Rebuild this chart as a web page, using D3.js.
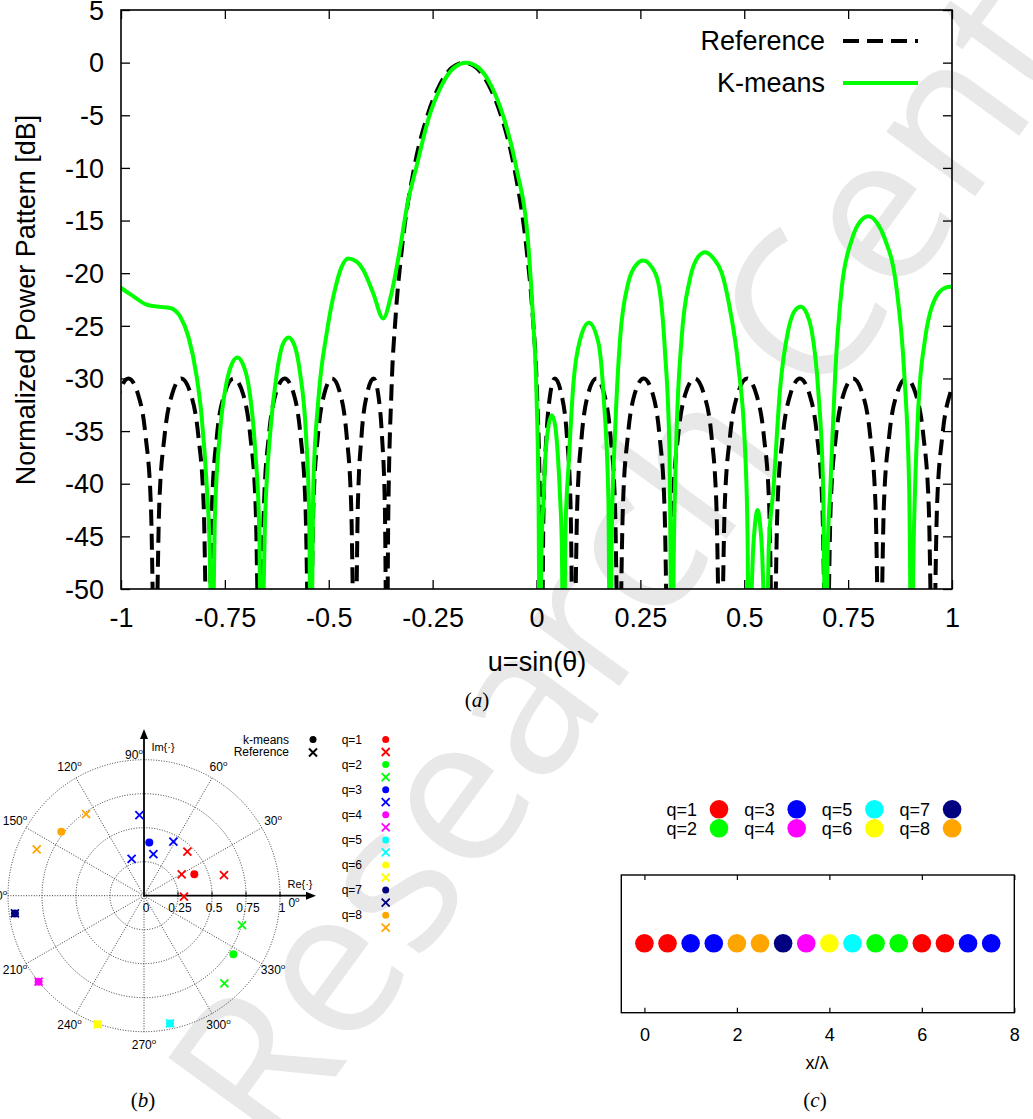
<!DOCTYPE html>
<html><head><meta charset="utf-8">
<script src="https://cdn.jsdelivr.net/npm/d3@7"></script>
<style>
body{margin:0;background:#fff}
svg{display:block}
text{font-family:"Liberation Sans",Arial,Helvetica,sans-serif}
</style>
</head><body>
<svg id="fig" width="1033" height="1119"></svg>
<script>
// ---------------- DATA ----------------
// (a) normalized power pattern
const uTicks = [-1,-0.75,-0.5,-0.25,0,0.25,0.5,0.75,1];
const uTickLabels = ["-1","-0.75","-0.5","-0.25","0","0.25","0.5","0.75","1"];
const dbTicks = [5,0,-5,-10,-15,-20,-25,-30,-35,-40,-45,-50];
const dbTickLabels = ["5","0","-5","-10","-15","-20","-25","-30","-35","-40","-45","-50"];
const seriesNames = ["Reference","K-means"];

const refU = [
 -1.046,-1.036,-1.023,-1.005,-0.982,-0.959,-0.941,-0.928,
 -0.918,-0.908,-0.895,-0.877,-0.855,-0.832,-0.814,-0.801,
 -0.791,-0.781,-0.769,-0.751,-0.729,-0.706,-0.689,-0.676,
 -0.666,-0.656,-0.644,-0.628,-0.606,-0.584,-0.568,-0.556,
 -0.546,-0.537,-0.526,-0.511,-0.492,-0.472,-0.457,-0.446,
 -0.437,-0.430,-0.421,-0.408,-0.392,-0.381,-0.372,-0.365,
 -0.360,-0.357,-0.349,-0.339,-0.324,-0.294,-0.264,-0.234,-0.204,-0.174,-0.144,-0.114,-0.084,-0.054,-0.024,-0.009,0.001,0.009,
 0.012,0.017,0.024,0.033,0.044,0.060,0.073,0.082,
 0.089,0.098,0.109,0.124,0.144,0.163,0.178,0.189,
 0.198,0.208,0.220,0.236,0.258,0.280,0.296,0.308,
 0.318,0.328,0.341,0.358,0.381,0.403,0.421,0.433,
 0.443,0.453,0.466,0.484,0.507,0.529,0.547,0.560,
 0.570,0.580,0.593,0.611,0.634,0.657,0.675,0.688,
 0.698,0.708,0.721,0.739,0.762,0.785,0.803,0.816,
 0.826,0.836,0.849,0.867,0.890,0.913,0.931,0.944,
 0.954,0.964,0.977,0.995,1.018,1.041
];
const refDB = [
 -60,-42.1,-35.4,-31.5,-30,-31.5,-35.4,-42.1,
 -60,-42.1,-35.4,-31.5,-30,-31.5,-35.4,-42.1,
 -60,-42.1,-35.4,-31.5,-30,-31.5,-35.4,-42.1,
 -60,-42.1,-35.4,-31.5,-30,-31.5,-35.4,-42.1,
 -60,-42.1,-35.4,-31.5,-30,-31.5,-35.4,-42.1,
 -60,-42.1,-35.4,-31.5,-30,-31.5,-35.4,-42.1,
 -60,-43.9,-31.1,-24.1,-17.7,-9.9,-5.2,-2.2,-0.5,0,-0.5,-2.2,-5.2,-9.9,-17.7,-24.1,-31.1,-43.9,
 -60,-42.1,-35.4,-31.5,-30,-31.5,-35.4,-42.1,
 -60,-42.1,-35.4,-31.5,-30,-31.5,-35.4,-42.1,
 -60,-42.1,-35.4,-31.5,-30,-31.5,-35.4,-42.1,
 -60,-42.1,-35.4,-31.5,-30,-31.5,-35.4,-42.1,
 -60,-42.1,-35.4,-31.5,-30,-31.5,-35.4,-42.1,
 -60,-42.1,-35.4,-31.5,-30,-31.5,-35.4,-42.1,
 -60,-42.1,-35.4,-31.5,-30,-31.5,-35.4,-42.1,
 -60,-42.1,-35.4,-31.5,-30,-31.5,-35.4,-42.1,
 -60,-42.1,-35.4,-31.5,-30,-31.5
];
const kmU = [
 -1.01,-1.0,-0.970,-0.938,-0.906,-0.882,-0.858,-0.838,-0.818,-0.806,-0.794,-0.786,-0.781,
 -0.774,-0.762,-0.746,-0.733,-0.720,-0.707,-0.694,-0.677,-0.667,-0.663,
 -0.653,-0.641,-0.625,-0.611,-0.597,-0.583,-0.569,-0.555,-0.547,-0.543,
 -0.537,-0.525,-0.505,-0.481,-0.469,-0.453,-0.433,-0.417,-0.393,-0.369,-0.349,-0.329,
 -0.311,-0.289,-0.259,-0.229,-0.199,-0.169,-0.139,-0.109,-0.079,-0.049,-0.019,-0.008,0.000,0.005,0.008,
 0.012,0.017,0.021,0.029,0.037,0.045,0.052,0.057,0.061,0.065,
 0.070,0.077,0.089,0.105,0.126,0.149,0.162,0.173,0.177,
 0.181,0.189,0.201,0.221,0.240,0.257,0.275,0.293,0.309,0.320,0.326,
 0.331,0.337,0.349,0.369,0.388,0.406,0.426,0.446,0.466,0.486,0.502,0.508,0.511,
 0.516,0.521,0.526,0.532,0.538,0.543,0.548,0.553,
 0.559,0.570,0.586,0.606,0.621,0.636,0.650,0.662,0.678,0.690,0.696,
 0.701,0.707,0.719,0.734,0.759,0.779,0.799,0.819,0.839,0.867,0.885,0.897,0.903,
 0.907,0.911,0.919,0.935,0.955,0.983,0.995,1.010
];
const kmDB = [
 -21.1,-21.4,-22.2,-23.0,-23.2,-23.3,-24.1,-26.0,-29.8,-33.6,-40.0,-47.0,-60,
 -43.1,-35.2,-30.4,-28.6,-28.0,-28.6,-30.4,-36.8,-44.7,-60,
 -43.1,-35.2,-29.5,-26.8,-26.1,-26.8,-29.5,-35.2,-43.1,-60,
 -40.0,-32.0,-25.7,-20.9,-19.4,-18.6,-18.9,-19.7,-21.9,-24.3,-21.9,-17.8,
 -13.5,-9.9,-5.2,-2.2,-0.5,0,-0.5,-2.2,-5.2,-9.9,-17.7,-24.5,-31.5,-42.0,-60,
 -46,-41.5,-37.7,-34.5,-33.5,-34.5,-37.7,-41.5,-46,-60,
 -44,-38.4,-30.4,-26.3,-24.7,-26.6,-32.0,-41.5,-60,
 -45,-35.2,-26.3,-20.9,-19.2,-18.8,-19.3,-20.9,-27.3,-36.8,-60,
 -45,-35.2,-26.3,-20.6,-18.5,-18.0,-18.6,-20.0,-23.5,-28.9,-36.8,-45,-60,
 -52,-46.5,-43.8,-42.5,-43.8,-46.5,-52,-60,
 -46,-40.6,-31.1,-25.4,-23.6,-23.2,-23.8,-25.4,-31.1,-40.6,-60,
 -46,-40.6,-29.5,-21.6,-16.8,-15.1,-14.6,-15.2,-16.8,-21.6,-29.5,-40.6,-60,
 -47,-40.6,-32.7,-26.3,-22.8,-21.4,-21.3,-21.4
];

// (b) cluster centres (k-means) and reference excitations, complex plane
const qColors = ["#ff0000","#00ff00","#0000ff","#ff00ff","#00ffff","#ffff00","#000080","#ffa500"];
const qLabels = ["q=1","q=2","q=3","q=4","q=5","q=6","q=7","q=8"];
const kmRe = [0.370, 0.657, 0.039,-0.775, 0.191,-0.341,-0.949,-0.608];
const kmIm = [0.157,-0.431, 0.392,-0.632,-0.939,-0.946,-0.130, 0.471];
const kmQ  = [1,2,3,4,5,6,7,8];
const refRe = [0.277,0.319,0.588,0.294, 0.721,0.591, -0.034,0.216,0.069,-0.091, -0.775, 0.191, -0.341, -0.949, -0.426,-0.789];
const refIm = [0.157,0.324,0.152,-0.007, -0.216,-0.645, 0.593,0.397,0.306,0.270, -0.632, -0.939, -0.946, -0.130, 0.600,0.341];
const refQ  = [1,1,1,1, 2,2, 3,3,3,3, 4, 5, 6, 7, 8,8];
const rRings = [0.25,0.5,0.75,1];
const rRingLabels = ["0","0.25","0.5","0.75","1"];
const angleDeg = [0,30,60,90,120,150,180,210,240,270,300,330];

// (c) element positions and cluster membership
const elemX = [0,0.5,1,1.5,2,2.5,3,3.5,4,4.5,5,5.5,6,6.5,7,7.5];
const elemQ = [1,1,3,3,8,8,7,4,6,5,2,2,1,1,3,3];
const xTicksC = [0,2,4,6,8];

// ---------------- DRAW ----------------
const svg = d3.select("#fig");

// watermark
svg.append("text")
  .attr("transform","translate(275,1160) rotate(-54)")
  .attr("font-size",205).attr("fill","#e8e8e8")
  .style("font-family","'Open Sans','Liberation Sans',sans-serif")
  .text("Research Center");

// ===== (a) =====
const A = {l:121, r:952, t:10, b:589};
const x = d3.scaleLinear().domain([-1,1]).range([A.l,A.r]);
const y = d3.scaleLinear().domain([-50,5]).range([A.b,A.t]);
const ga = svg.append("g");
ga.append("clipPath").attr("id","clipA").append("rect")
  .attr("x",A.l).attr("y",A.t).attr("width",A.r-A.l).attr("height",A.b-A.t);

const axB = ga.append("g").attr("transform",`translate(0,${A.b})`)
  .call(d3.axisBottom(x).tickValues(uTicks).tickFormat((d,i)=>uTickLabels[i]).tickSize(-9).tickPadding(19));
const axT = ga.append("g").attr("transform",`translate(0,${A.t})`)
  .call(d3.axisTop(x).tickValues(uTicks).tickFormat("").tickSize(-9));
const axL = ga.append("g").attr("transform",`translate(${A.l},0)`)
  .call(d3.axisLeft(y).tickValues(dbTicks).tickFormat((d,i)=>dbTickLabels[i]).tickSize(-9).tickPadding(17));
const axR = ga.append("g").attr("transform",`translate(${A.r},0)`)
  .call(d3.axisRight(y).tickValues(dbTicks).tickFormat("").tickSize(-9));
[axB,axT,axL,axR].forEach(g=>{
  g.select(".domain").remove();
  g.selectAll(".tick line").attr("stroke","#000").attr("stroke-width",1.3);
  g.selectAll("text").attr("font-size",27).attr("fill","#000").style("font-family","'Liberation Sans',Arial,sans-serif");
});
axL.selectAll("text").attr("dy","0.34em");

const line = d3.line().x(d=>x(d[0])).y(d=>y(d[1])).curve(d3.curveMonotoneX);
const refPts = refU.map((u,i)=>[u,refDB[i]]);
const kmPts = kmU.map((u,i)=>[u,kmDB[i]]);
const plotG = ga.append("g").attr("clip-path","url(#clipA)");
plotG.append("path").attr("d",line(refPts)).attr("fill","none")
  .attr("stroke","#000").attr("stroke-width",4).attr("stroke-dasharray","16,8");
plotG.append("path").attr("d",line(kmPts)).attr("fill","none")
  .attr("stroke","#00ff00").attr("stroke-width",4);

ga.append("rect").attr("x",A.l).attr("y",A.t).attr("width",A.r-A.l).attr("height",A.b-A.t)
  .attr("fill","none").attr("stroke","#000").attr("stroke-width",1.6);

// legend
const legY = [41,83];
seriesNames.forEach((n,i)=>{
  ga.append("text").attr("x",825).attr("y",legY[i]).attr("dy","0.35em")
    .attr("text-anchor","end").attr("font-size",27).text(n);
  ga.append("line").attr("x1",843).attr("x2",918).attr("y1",legY[i]).attr("y2",legY[i])
    .attr("stroke", i==0?"#000":"#00ff00").attr("stroke-width",4)
    .attr("stroke-dasharray", i==0?"16,8":null);
});
ga.append("text").attr("x",537).attr("y",662).attr("dy","0.35em").attr("text-anchor","middle")
  .attr("font-size",27).text("u=sin(θ)");
ga.append("text").attr("transform","translate(35,300) rotate(-90)").attr("text-anchor","middle")
  .attr("font-size",27).text("Normalized Power Pattern [dB]");

function caption(xp,yp,letter){
  const t = svg.append("text").attr("x",xp).attr("y",yp).attr("text-anchor","middle")
    .attr("font-size",21).style("font-family","'Liberation Serif','Times New Roman',serif");
  t.append("tspan").text("(");
  t.append("tspan").attr("font-style","italic").text(letter);
  t.append("tspan").text(")");
}
caption(477,707,"a");
caption(143,1107,"b");
caption(815,1107,"c");

// ===== (b) polar =====
const cx = 144, cy = 895.7, R = 136;
const px = d3.scaleLinear().domain([-1,1]).range([cx-R,cx+R]);
const py = d3.scaleLinear().domain([-1,1]).range([cy+R,cy-R]);
const rs = d3.scaleLinear().domain([0,1]).range([0,R]);
const gb = svg.append("g");
rRings.forEach(r=>{
  gb.append("circle").attr("cx",cx).attr("cy",cy).attr("r",rs(r))
    .attr("fill","none").attr("stroke","#222").attr("stroke-width",0.9).attr("stroke-dasharray","1,1.6");
});
angleDeg.filter(a=>a!==0 && a!==90).forEach(a=>{
  const t = a*Math.PI/180;
  gb.append("line").attr("x1",cx).attr("y1",cy)
    .attr("x2",px(Math.cos(t))).attr("y2",py(Math.sin(t)))
    .attr("stroke","#222").attr("stroke-width",0.9).attr("stroke-dasharray","1,1.6");
});
// axes with arrows
gb.append("line").attr("x1",cx).attr("y1",cy).attr("x2",310).attr("y2",cy).attr("stroke","#000").attr("stroke-width",1.8);
gb.append("path").attr("d",`M316,${cy} L306,${cy-4} L306,${cy+4} Z`).attr("fill","#000");
gb.append("line").attr("x1",cx).attr("y1",cy).attr("x2",cx).attr("y2",735).attr("stroke","#000").attr("stroke-width",1.8);
gb.append("path").attr("d",`M${cx},729 L${cx-4},739 L${cx+4},739 Z`).attr("fill","#000");
rRings.forEach(r=>{
  gb.append("line").attr("x1",px(r)).attr("x2",px(r)).attr("y1",cy-4).attr("y2",cy+1)
    .attr("stroke","#000").attr("stroke-width",1);
});
[0].concat(rRings).forEach((r,i)=>{
  gb.append("text").attr("x",px(r)+2).attr("y",cy+16).attr("text-anchor","middle")
    .attr("font-size",12).text(rRingLabels[i]);
});
gb.append("text").attr("x",300).attr("y",cy-8).attr("text-anchor","middle").attr("font-size",11).text("Re{·}");
gb.append("text").attr("x",163).attr("y",751).attr("text-anchor","middle").attr("font-size",11).text("Im{·}");
angleDeg.forEach(a=>{
  const t = a*Math.PI/180;
  let lx = cx + 149*Math.cos(t), ly = cy - 149*Math.sin(t);
  if(a===0){ lx = 294; ly = cy+7; }
  if(a===90){ lx = 134; ly = 755; }
  const tx = gb.append("text").attr("x",lx).attr("y",ly+4).attr("text-anchor","middle").attr("font-size",12);
  tx.append("tspan").text(a);
  tx.append("tspan").attr("font-size",8).attr("dy",-5).text("o");
});
function cross(g,xx,yy,s,col,w){
  g.append("path").attr("d",`M${xx-s},${yy-s}L${xx+s},${yy+s}M${xx-s},${yy+s}L${xx+s},${yy-s}`)
    .attr("stroke",col).attr("stroke-width",w).attr("fill","none");
}
refRe.forEach((re,i)=>cross(gb,px(re),py(refIm[i]),4,qColors[refQ[i]-1],1.8));
kmRe.forEach((re,i)=>{
  gb.append("circle").attr("cx",px(re)).attr("cy",py(kmIm[i])).attr("r",4).attr("fill",qColors[kmQ[i]-1]);
});
// legend (b)
gb.append("text").attr("x",289).attr("y",740).attr("dy","0.35em").attr("text-anchor","end").attr("font-size",12).text("k-means");
gb.append("text").attr("x",289).attr("y",752).attr("dy","0.35em").attr("text-anchor","end").attr("font-size",12).text("Reference");
gb.append("circle").attr("cx",313).attr("cy",739.5).attr("r",3.5).attr("fill","#000");
cross(gb,313,752.5,4,"#000",2);
qLabels.forEach((lab,i)=>{
  const yy = 739.5 + 25.1*i;
  gb.append("text").attr("x",362).attr("y",yy).attr("dy","0.35em").attr("text-anchor","end").attr("font-size",12).text(lab);
  gb.append("circle").attr("cx",385.7).attr("cy",yy).attr("r",3.5).attr("fill",qColors[i]);
  cross(gb,385.7,yy+12.5,4,qColors[i],1.8);
});

// ===== (c) =====
const C = {l:621.3, r:1014.3, t:875, b:1012.7};
const xc = d3.scaleLinear().domain([-0.5,8]).range([C.l,C.r]);
const ycMid = 943.3;
const gc = svg.append("g");
const cB = gc.append("g").attr("transform",`translate(0,${C.b})`)
  .call(d3.axisBottom(xc).tickValues(xTicksC).tickFormat(d=>String(d)).tickSize(-5).tickPadding(16));
const cT = gc.append("g").attr("transform",`translate(0,${C.t})`)
  .call(d3.axisTop(xc).tickValues(xTicksC).tickFormat("").tickSize(-5));
[cB,cT].forEach(g=>{
  g.select(".domain").remove();
  g.selectAll(".tick line").attr("stroke","#000").attr("stroke-width",1.2);
  g.selectAll("text").attr("font-size",18).attr("fill","#000").style("font-family","'Liberation Sans',Arial,sans-serif");
});
gc.append("rect").attr("x",C.l).attr("y",C.t).attr("width",C.r-C.l).attr("height",C.b-C.t)
  .attr("fill","none").attr("stroke","#000").attr("stroke-width",1.4);
elemX.forEach((v,i)=>{
  gc.append("circle").attr("cx",xc(v)).attr("cy",ycMid).attr("r",9.3).attr("fill",qColors[elemQ[i]-1]);
});
gc.append("text").attr("x",817).attr("y",1063).attr("dy","0.35em").attr("text-anchor","middle").attr("font-size",18).text("x/λ");
qLabels.forEach((lab,i)=>{
  const col = Math.floor(i/2), row = i%2;
  const tx = 697 + 77.7*col, yy = 809.3 + 19*row;
  gc.append("text").attr("x",tx).attr("y",yy).attr("dy","0.35em").attr("text-anchor","end").attr("font-size",18).text(lab);
  gc.append("circle").attr("cx",tx+22).attr("cy",yy).attr("r",9.3).attr("fill",qColors[i]);
});
</script>
</body></html>
